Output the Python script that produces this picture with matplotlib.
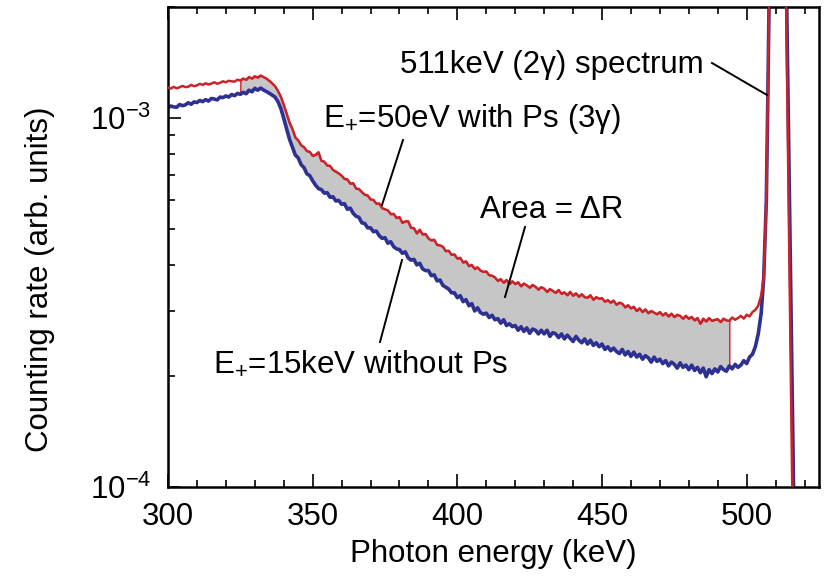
import numpy as np
import matplotlib
matplotlib.use("Agg")
import matplotlib.pyplot as plt
from matplotlib.ticker import LogLocator, FixedLocator, MultipleLocator, NullFormatter
from matplotlib.lines import Line2D

plt.rcParams['font.family'] = ['Liberation Sans', 'DejaVu Sans']
plt.rcParams['mathtext.fontset'] = 'custom'
plt.rcParams['mathtext.rm'] = 'Liberation Sans'
plt.rcParams['mathtext.it'] = 'Liberation Sans:italic'
plt.rcParams['mathtext.bf'] = 'Liberation Sans:bold'
plt.rcParams['mathtext.default'] = 'regular'

# ---------------- data (counting rate in units of 1e-4) ----------------
energy_start = 300  # keV, 1 keV channels
red_base = [
    12.10, 12.02, 12.15, 12.04, 12.12, 12.22, 12.13, 12.16, 12.30, 12.20,
    12.26, 12.38, 12.30, 12.42, 12.33, 12.40, 12.50, 12.39, 12.46, 12.58,
    12.50, 12.62, 12.58, 12.55, 12.70, 12.64, 12.80, 12.70, 12.92, 12.80,
    12.98, 12.88, 13.04, 12.92, 12.80, 12.62, 12.42, 12.20, 11.84, 11.42,
    10.86, 10.28, 9.72, 9.34, 8.86, 8.70, 8.44, 8.34, 8.14, 8.10,
    7.90, 7.95, 8.08, 7.66, 7.62, 7.44, 7.42, 7.24, 7.16, 7.08,
    6.98, 6.84, 6.82, 6.64, 6.66, 6.44, 6.42, 6.30, 6.20, 6.17,
    6.02, 6.00, 5.86, 5.87, 5.70, 5.66, 5.62, 5.49, 5.50, 5.36,
    5.39, 5.20, 5.25, 5.25, 5.04, 5.03, 4.87, 4.98, 4.84, 4.85,
    4.72, 4.66, 4.68, 4.53, 4.52, 4.48, 4.36, 4.37, 4.26, 4.27,
    4.16, 4.18, 4.06, 4.09, 3.97, 4.00, 3.90, 3.94, 3.86, 3.83,
    3.84, 3.75, 3.74, 3.70, 3.62, 3.66, 3.58, 3.64, 3.55, 3.61,
    3.55, 3.59, 3.50, 3.56, 3.52, 3.47, 3.53, 3.49, 3.43, 3.48,
    3.45, 3.38, 3.44, 3.40, 3.36, 3.42, 3.34, 3.37, 3.31, 3.38,
    3.30, 3.35, 3.28, 3.33, 3.27, 3.26, 3.31, 3.22, 3.27, 3.24,
    3.25, 3.18, 3.21, 3.16, 3.20, 3.12, 3.16, 3.14, 3.07, 3.11,
    3.05, 3.08, 3.00, 3.05, 2.98, 3.03, 2.96, 3.00, 2.97, 2.94,
    2.98, 2.92, 2.96, 2.90, 2.95, 2.89, 2.93, 2.91, 2.86, 2.91,
    2.86, 2.89, 2.83, 2.87, 2.77, 2.86, 2.81, 2.87, 2.82, 2.84,
    2.85, 2.80, 2.86, 2.83, 2.82, 2.88, 2.84, 2.87, 2.91, 2.86,
    2.93, 2.90, 2.98, 3.02, 3.10, 3.30,
]
blue_base = [
    10.66, 10.78, 10.72, 10.70, 10.88, 10.80, 10.86, 11.00, 10.90, 11.06,
    11.02, 11.16, 11.08, 11.22, 11.12, 11.30, 11.26, 11.20, 11.40, 11.36,
    11.48, 11.40, 11.58, 11.50, 11.66, 11.60, 11.74, 11.64, 11.90, 11.78,
    12.04, 11.90, 12.06, 11.92, 11.80, 11.68, 11.54, 11.40, 11.08, 10.62,
    9.98, 9.34, 8.76, 8.34, 7.94, 7.80, 7.48, 7.34, 7.06, 6.98,
    6.76, 6.58, 6.44, 6.40, 6.26, 6.28, 6.10, 6.12, 5.96, 5.98,
    5.84, 5.86, 5.66, 5.70, 5.52, 5.42, 5.38, 5.20, 5.18, 5.04,
    5.04, 4.92, 4.94, 4.80, 4.72, 4.74, 4.58, 4.62, 4.48, 4.42,
    4.40, 4.30, 4.34, 4.18, 4.12, 4.14, 4.00, 4.04, 3.90, 3.86,
    3.86, 3.74, 3.76, 3.62, 3.64, 3.52, 3.48, 3.44, 3.36, 3.36,
    3.26, 3.30, 3.18, 3.22, 3.10, 3.14, 3.00, 3.06, 2.97, 2.94,
    2.96, 2.88, 2.92, 2.84, 2.86, 2.78, 2.84, 2.74, 2.77, 2.72,
    2.74, 2.66, 2.72, 2.64, 2.70, 2.61, 2.68, 2.66, 2.60, 2.66,
    2.60, 2.66, 2.56, 2.62, 2.60, 2.54, 2.60, 2.52, 2.58, 2.53,
    2.48, 2.56, 2.50, 2.46, 2.52, 2.44, 2.50, 2.42, 2.46, 2.40,
    2.44, 2.36, 2.40, 2.34, 2.38, 2.33, 2.30, 2.36, 2.28, 2.33,
    2.26, 2.32, 2.25, 2.29, 2.22, 2.27, 2.24, 2.18, 2.25, 2.19,
    2.22, 2.16, 2.20, 2.13, 2.18, 2.15, 2.10, 2.17, 2.11, 2.14,
    2.08, 2.14, 2.07, 2.11, 2.04, 2.10, 1.99, 2.08, 2.03, 2.09,
    2.05, 2.12, 2.08, 2.06, 2.13, 2.09, 2.15, 2.11, 2.14, 2.20,
    2.16, 2.25, 2.29, 2.40, 2.60, 2.95,
]
# 511 keV photopeak region
red_peak_energy = [505.9, 506.8, 507.3, 507.7, 508.3, 509.5, 511.0, 512.5, 513.65, 515.75, 517.5]
blue_peak_energy = [505.9, 506.8, 507.3, 507.7, 508.3, 509.5, 511.0, 512.5, 513.85, 516.2, 517.8]
peak_rate = [3.70, 6.0, 11.2, 19.6, 40.0, 150.0, 300.0, 150.0, 20.0, 1.0, 0.2]

area_range = (325, 494)

x_ticks = [300, 350, 400, 450, 500]
scale = 1e-4

# ---------------- build arrays ----------------
e_base_red = energy_start + np.arange(len(red_base))
e_base_blue = energy_start + np.arange(len(blue_base))
e_red = np.concatenate([e_base_red, red_peak_energy])
e_blue = np.concatenate([e_base_blue, blue_peak_energy])
r_red = np.concatenate([red_base, peak_rate]) * scale
r_blue = np.concatenate([blue_base, peak_rate]) * scale

RED = '#cc2229'
BLUE = '#2e3192'
GRAY = '#c6c6c6'

W, H = 831, 577
fig = plt.figure(figsize=(W / 100, H / 100), dpi=100)
L, R, T, B = 168, 819, 7, 487
ax = fig.add_axes([L / W, 1 - B / H, (R - L) / W, (B - T) / H])

n = min(len(red_base), len(blue_base))
e_fill = e_base_red[:n]
mask = (e_fill >= area_range[0]) & (e_fill <= area_range[1])
ax.fill_between(e_fill, np.array(blue_base[:n]) * scale, np.array(red_base[:n]) * scale,
                where=mask, facecolor=GRAY, edgecolor=RED, linewidth=1.0, zorder=1)

ax.plot(e_blue, r_blue, color=BLUE, lw=2.6, zorder=2, solid_joinstyle='round')
ax.plot(e_red, r_red, color=RED, lw=1.8, zorder=3, solid_joinstyle='round')

ax.set_yscale('log')
ax.set_xlim(300, 525)
ax.set_ylim(1e-4, 2e-3)

ax.xaxis.set_major_locator(FixedLocator(x_ticks))
ax.xaxis.set_minor_locator(MultipleLocator(10))
ax.yaxis.set_major_locator(FixedLocator([1e-4, 1e-3]))
ax.yaxis.set_minor_locator(LogLocator(base=10, subs=np.arange(2, 10)))
ax.yaxis.set_minor_formatter(NullFormatter())
ax.set_yticklabels([r'$10^{-4}$', r'$10^{-3}$'])
ax.set_xticklabels([str(v) for v in x_ticks])

FS = 22.5
ax.tick_params(axis='x', which='both', direction='in', top=True, bottom=True,
               labelsize=FS, pad=11)
ax.tick_params(axis='y', which='both', direction='in', left=True, right=False,
               labelsize=FS, pad=12)
ax.tick_params(which='major', length=9.5, width=1.2)
ax.tick_params(which='minor', length=5, width=1.2)
for s in ax.spines.values():
    s.set_linewidth(1.8)

def fxy(px, py):
    return px / W, 1 - py / H

fig.text(*fxy(493, 554), 'Photon energy (keV)', ha='center', va='center', fontsize=FS)
fig.text(*fxy(40, 279), 'Counting rate (arb. units)', ha='center', va='center',
         rotation=90, fontsize=FS)

# annotations (text at baseline pixel positions)
fig.text(*fxy(400, 73), '511keV (2γ) spectrum', ha='left', va='baseline', fontsize=FS)
fig.text(*fxy(323, 127), 'E$_{+}$=50eV with Ps (3γ)', ha='left', va='baseline', fontsize=FS)
fig.text(*fxy(480, 218), 'Area = ΔR', ha='left', va='baseline', fontsize=FS)
fig.text(*fxy(213, 372), 'E$_{+}$=15keV without Ps', ha='left', va='baseline', fontsize=FS)

leaders = [((712, 63), (767, 95)),
           ((403, 140), (382, 205)),
           ((525, 227), (505, 297)),
           ((380, 342), (402, 260))]
for (x0, y0), (x1, y1) in leaders:
    a = fxy(x0, y0)
    b = fxy(x1, y1)
    fig.add_artist(Line2D([a[0], b[0]], [a[1], b[1]], color='black', lw=1.4,
                          transform=fig.transFigure, zorder=5))

fig.savefig('out.png', dpi=100)
